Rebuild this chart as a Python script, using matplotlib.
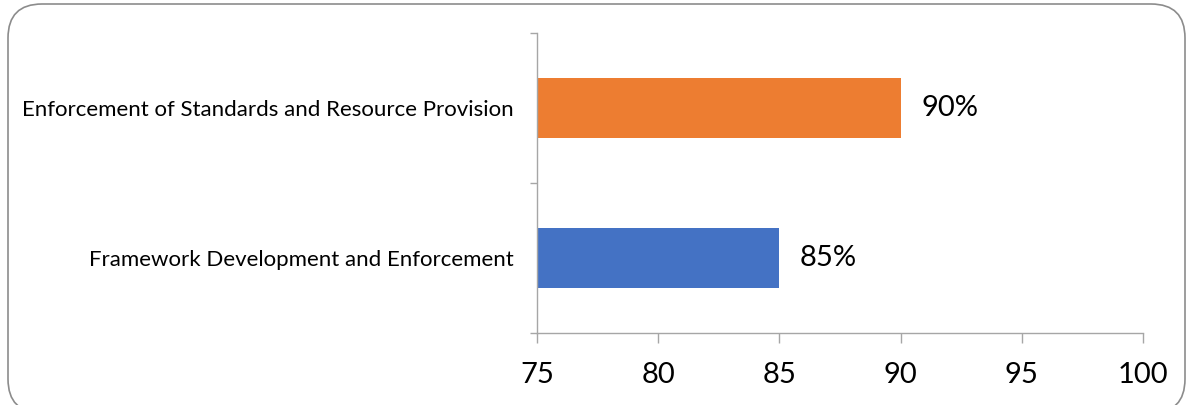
import matplotlib
matplotlib.use("Agg")
import matplotlib.pyplot as plt
from matplotlib.patches import FancyBboxPatch
from matplotlib.transforms import IdentityTransform

categories = ["Framework Development and Enforcement",
              "Enforcement of Standards and Resource Provision"]
values = [85, 90]
colors = ["#4472C4", "#ED7D31"]
x_ticks = [75, 80, 85, 90, 95, 100]

plt.rcParams["font.family"] = ["Lato", "DejaVu Sans"]

W, H, DPI = 1189, 405, 100
fig = plt.figure(figsize=(W / DPI, H / DPI), dpi=DPI, facecolor="white")

# rounded frame around the chart area
frame = FancyBboxPatch((8, -8), 1177, 409, boxstyle="round,pad=0,rounding_size=34",
                       transform=IdentityTransform(), facecolor="none",
                       edgecolor="#8C8C8C", linewidth=1.2, zorder=0)
fig.patches.append(frame)

ax = fig.add_axes([537 / W, 1 - 333 / H, (1143 - 537) / W, 300 / H])
ax.set_facecolor("none")

pos = list(range(len(categories)))
ax.barh(pos, [v - x_ticks[0] for v in values], left=x_ticks[0], height=0.4,
        color=colors, zorder=2)

for p, v in zip(pos, values):
    ax.text(v + 0.85, p, f"{v}%", va="center", ha="left", fontsize=21, color="black")

ax.set_xlim(x_ticks[0], x_ticks[-1])
ax.set_ylim(-0.5, len(categories) - 0.5)
ax.set_xticks(x_ticks)
ax.set_xticklabels([str(t) for t in x_ticks], fontsize=21)

# boundary tick marks between categories, labels centred on each bar
ax.set_yticks([p - 0.5 for p in pos] + [pos[-1] + 0.5])
ax.set_yticklabels([])
ax.set_yticks(pos, minor=True)
ax.set_yticklabels(categories, minor=True, fontsize=16)
ax.tick_params(axis="y", which="minor", length=0, pad=16.5)
ax.tick_params(axis="y", which="major", length=5, color="#A6A6A6", width=1)
ax.tick_params(axis="x", length=7.2, color="#A6A6A6", width=1, pad=13.5)

for side in ["top", "right"]:
    ax.spines[side].set_visible(False)
for side in ["left", "bottom"]:
    ax.spines[side].set_color("#A6A6A6")
    ax.spines[side].set_linewidth(1)

fig.savefig("out.png", dpi=DPI)
